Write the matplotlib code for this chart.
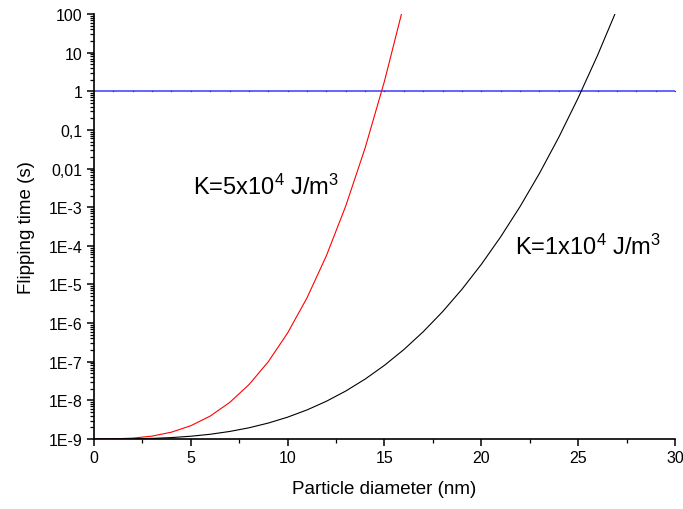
import numpy as np
import matplotlib
matplotlib.use("Agg")
from matplotlib import pyplot as plt
from matplotlib.ticker import FixedLocator, LogLocator, FuncFormatter, MultipleLocator

plt.rcParams["font.family"] = "Liberation Sans"
plt.rcParams["mathtext.default"] = "regular"

# particle diameter (nm) and log10 of the flipping time (s)
diam_hi = np.arange(0, 17)
log_tau_hi = [-9.0, -8.997, -8.978, -8.926, -8.824, -8.657, -8.407, -8.058,
              -7.595, -7.0, -6.255, -5.346, -4.257, -2.969, -1.468, 0.264, 2.244]

diam_lo = np.arange(0, 29)
log_tau_lo = [-9.0, -8.999, -8.996, -8.985, -8.964, -8.929, -8.878, -8.806,
              -8.711, -8.588, -8.435, -8.248, -8.024, -7.759, -7.450, -7.093,
              -6.686, -6.224, -5.705, -5.125, -4.480, -3.767, -2.984, -2.126,
              -1.190, -0.172, 0.930, 2.121, 3.40]

# measurement time reference line
diam_ref = np.arange(0, 31)
tau_ref = np.ones(len(diam_ref))

label_hi = "K=5x10$^4$ J/m$^3$"
label_lo = "K=1x10$^4$ J/m$^3$"
ytick_labels = ["1E-9", "1E-8", "1E-7", "1E-6", "1E-5", "1E-4", "1E-3",
                "0,01", "0,1", "1", "10", "100"]

fig = plt.figure(figsize=(6.83, 5.10), dpi=100)
ax = fig.add_axes([0.1376, 0.1373, 0.8507, 0.8333])

ax.plot(diam_ref, tau_ref, color="#3a3aff", lw=1.1, marker="o", ms=1.0, mew=0,
        mfc="#2a2ad0")
ax.plot(diam_hi, 10 ** np.array(log_tau_hi), color="#ff0000", lw=0.8)
ax.plot(diam_lo, 10 ** np.array(log_tau_lo), color="black", lw=0.8)

ax.set_yscale("log")
ax.set_xlim(0, 30)
ax.set_ylim(1e-9, 100)

yticks = [10.0 ** e for e in range(-9, 3)]
ax.yaxis.set_major_locator(FixedLocator(yticks))
ax.yaxis.set_major_formatter(FuncFormatter(lambda v, p: ytick_labels[int(round(np.log10(v))) + 9]))
ax.yaxis.set_minor_locator(LogLocator(base=10, subs=np.arange(2, 10), numticks=20))
ax.yaxis.set_minor_formatter(FuncFormatter(lambda v, p: ""))
ax.xaxis.set_major_locator(MultipleLocator(5))
ax.xaxis.set_minor_locator(MultipleLocator(2.5))

for s in ["top", "right"]:
    ax.spines[s].set_visible(False)
for s in ["left", "bottom"]:
    ax.spines[s].set_linewidth(1.2)

ax.tick_params(which="major", direction="out", length=5, width=1.1, labelsize=11.5, pad=3)
ax.tick_params(which="minor", direction="out", length=3, width=0.9)

ax.set_xlabel("Particle diameter (nm)", fontsize=13.5, labelpad=11)
ax.set_ylabel("Flipping time (s)", fontsize=13.5, labelpad=10)

fig.text(193 / 683, 1 - 195 / 510, label_hi, fontsize=17)
fig.text(515 / 683, 1 - 255 / 510, label_lo, fontsize=17)

fig.savefig("out.png", dpi=100)
